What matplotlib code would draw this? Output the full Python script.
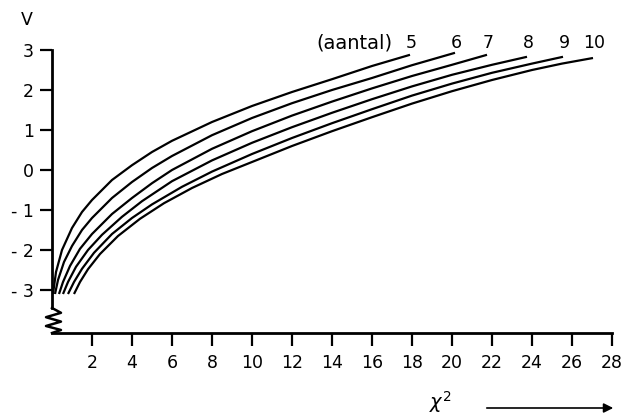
"""Chi-square to normal deviate V curves for 5..10 degrees of freedom."""

import matplotlib
matplotlib.use("Agg")
from matplotlib import pyplot as plt

# (chi2, V) per curve
aantal = [5, 6, 7, 8, 9, 10]
chi2_5 = [0.05, 0.2, 0.5, 1.0, 1.5, 2, 3, 4, 5, 6, 8, 10, 12, 14, 16, 17.9]
v_5 = [-3.1, -2.55, -2.0, -1.45, -1.05, -0.75, -0.25, 0.12, 0.45, 0.73, 1.2, 1.6,
       1.95, 2.27, 2.6, 2.88]
chi2_6 = [0.15, 0.3, 0.6, 1.0, 1.5, 2, 3, 4, 5, 6, 8, 10, 12, 14, 16, 18, 20.15]
v_6 = [-3.1, -2.75, -2.3, -1.9, -1.5, -1.2, -0.7, -0.3, 0.05, 0.35, 0.87, 1.3, 1.67,
       2.0, 2.3, 2.62, 2.93]
chi2_7 = [0.35, 0.55, 0.9, 1.4, 2, 3, 4, 5, 6, 8, 10, 12, 14, 16, 18, 20, 21.75]
v_7 = [-3.1, -2.8, -2.4, -1.97, -1.6, -1.1, -0.7, -0.33, 0.0, 0.53, 0.97, 1.36, 1.71,
       2.04, 2.35, 2.63, 2.88]
chi2_8 = [0.55, 0.8, 1.2, 1.8, 2.5, 3.5, 4.5, 6, 8, 10, 12, 14, 16, 18, 20, 22, 23.75]
v_8 = [-3.1, -2.8, -2.42, -2.0, -1.62, -1.17, -0.78, -0.28, 0.24, 0.68, 1.07, 1.43,
       1.77, 2.09, 2.38, 2.63, 2.83]
chi2_9 = [0.8, 1.1, 1.5, 2.1, 3, 4, 5, 6.5, 8, 10, 12, 14, 16, 18, 20, 22, 24, 25.55]
v_9 = [-3.1, -2.8, -2.47, -2.07, -1.6, -1.2, -0.86, -0.42, -0.04, 0.4, 0.8, 1.17,
       1.52, 1.86, 2.16, 2.43, 2.66, 2.83]
chi2_10 = [1.1, 1.4, 1.8, 2.4, 3.3, 4.4, 5.6, 7, 8.5, 10, 12, 14, 16, 18, 20, 22, 24,
           25.5, 27.05]
v_10 = [-3.1, -2.8, -2.48, -2.1, -1.65, -1.22, -0.83, -0.45, -0.1, 0.2, 0.6, 0.97,
        1.32, 1.66, 1.97, 2.25, 2.5, 2.66, 2.8]

curves = [(chi2_5, v_5), (chi2_6, v_6), (chi2_7, v_7),
          (chi2_8, v_8), (chi2_9, v_9), (chi2_10, v_10)]
x_ticks = list(range(2, 29, 2))
y_ticks = [-3, -2, -1, 0, 1, 2, 3]
y_labels = ["- 3", "- 2", "- 1", "0", "1", "2", "3"]

plt.rcParams["font.family"] = "DejaVu Sans"
fig = plt.figure(figsize=(6.26, 4.2), dpi=100)
ax = fig.add_axes([52 / 626, 87 / 420, 560 / 626, 307 / 420])
ax.set_xlim(0, 28)
ax.set_ylim(-4.075, 3.6)

for chi2, v in curves:
    ax.plot(chi2, v, color="black", lw=1.6, solid_capstyle="butt",
            solid_joinstyle="round")

for n, (chi2, v) in zip(aantal, curves):
    ax.text(chi2[-1] + 0.05, 3.18, str(n), ha="center", va="center", fontsize=12.5)
ax.text(chi2_5[-1] - 0.9, 3.18, "(aantal)", ha="right", va="center", fontsize=14)

# axes: open frame with a break in the V axis
for side in ("top", "right"):
    ax.spines[side].set_visible(False)
ax.spines["left"].set_bounds(-3.45, 3)
ax.spines["bottom"].set_bounds(0, 28)
ax.spines["left"].set_linewidth(2)
ax.spines["bottom"].set_linewidth(2)
ax.plot([0, 0.45, -0.3, 0.45, -0.3, 0.45, 0.0],
        [-3.45, -3.57, -3.68, -3.79, -3.9, -4.0, -4.075],
        color="black", lw=1.8, clip_on=False)

ax.set_xticks(x_ticks)
ax.set_xticklabels([str(t) for t in x_ticks])
ax.set_yticks(y_ticks)
ax.set_yticklabels(y_labels)
ax.tick_params(axis="both", direction="out", width=1.6, labelsize=12.5, color="black")
ax.tick_params(axis="x", length=9, pad=6)
ax.tick_params(axis="y", length=9, pad=4)

ax.text(-1.25, 3.75, "V", ha="center", va="center", fontsize=12.5)
ax.text(19.4, -5.8, r"$\chi^2$", ha="center", va="center", fontsize=14)
ax.annotate("", xy=(28.2, -5.95), xytext=(21.6, -5.95),
            arrowprops=dict(arrowstyle="-|>", color="black", lw=1.2,
                            mutation_scale=14),
            annotation_clip=False)

fig.savefig("out.png", dpi=100)
